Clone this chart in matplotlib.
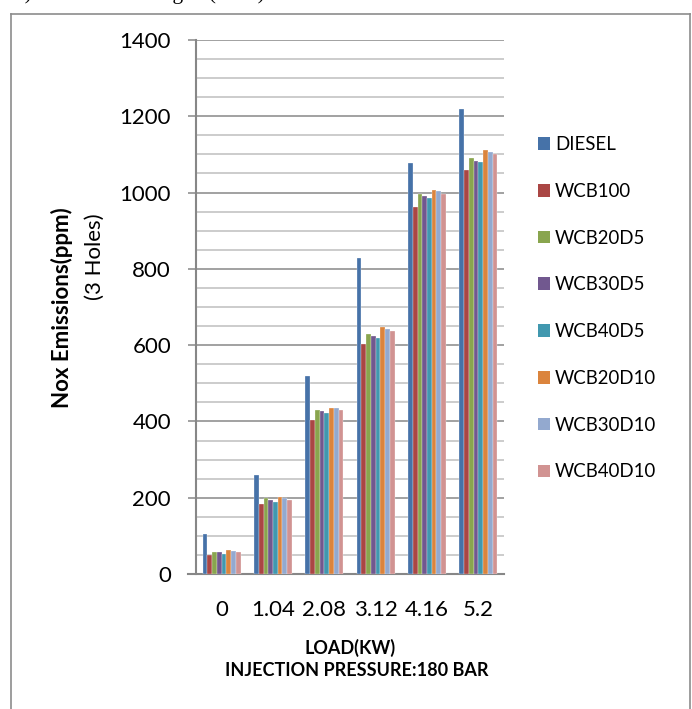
import matplotlib
matplotlib.use("Agg")
import matplotlib.pyplot as plt
from matplotlib.lines import Line2D
from matplotlib.patches import Patch
import numpy as np

# data
loads = ["0", "1.04", "2.08", "3.12", "4.16", "5.2"]
fuels = ["DIESEL", "WCB100", "WCB20D5", "WCB30D5", "WCB40D5",
         "WCB20D10", "WCB30D10", "WCB40D10"]
diesel = [105, 259, 520, 829, 1078, 1220]
wcb100 = [50, 183, 403, 602, 963, 1058]
wcb20d5 = [58, 199, 431, 630, 997, 1090]
wcb30d5 = [57, 194, 427, 625, 991, 1084]
wcb40d5 = [53, 190, 423, 620, 987, 1079]
wcb20d10 = [63, 201, 436, 648, 1007, 1111]
wcb30d10 = [60, 199, 435, 643, 1003, 1107]
wcb40d10 = [57, 195, 431, 638, 997, 1101]
series = [diesel, wcb100, wcb20d5, wcb30d5, wcb40d5, wcb20d10, wcb30d10, wcb40d10]
colors = ["#4672A8", "#AA4644", "#89A54E", "#71588F",
          "#4198AF", "#DB843D", "#93A9CF", "#D19392"]

W, H = 692, 709
fig = plt.figure(figsize=(W / 100, H / 100), dpi=100)
plt.rcParams["font.family"] = ["Lato", "DejaVu Sans"]

ax = fig.add_axes([196 / W, 135 / H, 308 / W, 534 / H])

x = np.arange(len(loads))
bw = 0.74 / len(series)
for j, (vals, c, name) in enumerate(zip(series, colors, fuels)):
    ax.bar(x + (j - 3.5) * bw, vals, width=bw, color=c, label=name,
           edgecolor="white", linewidth=0.2, zorder=3)

ax.set_xlim(-0.5, len(loads) - 0.5)
ax.set_ylim(0, 1400)
ax.set_yticks(np.arange(0, 1401, 200))
ax.set_yticks(np.arange(0, 1401, 50), minor=True)
ax.set_xticks(x)
ax.set_xticklabels(loads)
ax.grid(True, which="minor", axis="y", color="#BEBEBE", linewidth=1.1, zorder=1)
ax.grid(True, which="major", axis="y", color="#878787", linewidth=1.1, zorder=2)
ax.tick_params(axis="y", which="major", length=6, width=1.1, color="#878787",
               pad=12, labelsize=16)
ax.tick_params(axis="y", which="minor", length=0)
ax.tick_params(axis="x", length=0, pad=19, labelsize=16)
for s in ["top", "right"]:
    ax.spines[s].set_visible(False)
for s in ["left", "bottom"]:
    ax.spines[s].set_color("#878787")
    ax.spines[s].set_linewidth(1.5)
ax.spines["bottom"].set_bounds(-0.5 - 8 / 51.3, 5.5)

# axis titles
fig.text(62 / W, 1 - 308 / H, "Nox Emissions(ppm)", rotation=90,
         fontsize=16, fontweight="bold", ha="center", va="center")
fig.text(95 / W, 1 - 257 / H, "(3 Holes)", rotation=90,
         fontsize=16, ha="center", va="center")
fig.text(350 / W, 1 - 648 / H, "LOAD(KW)", fontsize=13, fontweight="bold",
         ha="center", va="center")
fig.text(357 / W, 1 - 670 / H, "INJECTION PRESSURE:180 BAR", fontsize=13,
         fontweight="bold", ha="center", va="center")

# legend
handles = [Patch(facecolor=c, edgecolor="none") for c in colors]
fig.legend(handles, fuels, loc="upper left", bbox_to_anchor=(538 / W, 1 - 136 / H),
           frameon=False, fontsize=13.4, handlelength=0.67, handleheight=0.67,
           handletextpad=0.25, labelspacing=1.60, borderpad=0, borderaxespad=0)

# caption clipped at the top edge, only its lower part shows
fig.text(15 / W, 1 + 1 / H, "c) Oxides of Nitrogen (NOx) emissions",
         family="Liberation Serif", fontsize=15.5, va="baseline", ha="left")

# outer chart border (no bottom edge visible)
bc = "#8C8C8C"
fig.add_artist(Line2D([11 / W, 11 / W], [0, 1 - 14 / H], color=bc, lw=1.2))
fig.add_artist(Line2D([11 / W, 690 / W], [1 - 14 / H, 1 - 14 / H], color=bc, lw=1.2))
fig.add_artist(Line2D([690 / W, 690 / W], [0, 1 - 14 / H], color=bc, lw=1.2))

fig.savefig("out.png", dpi=100)
